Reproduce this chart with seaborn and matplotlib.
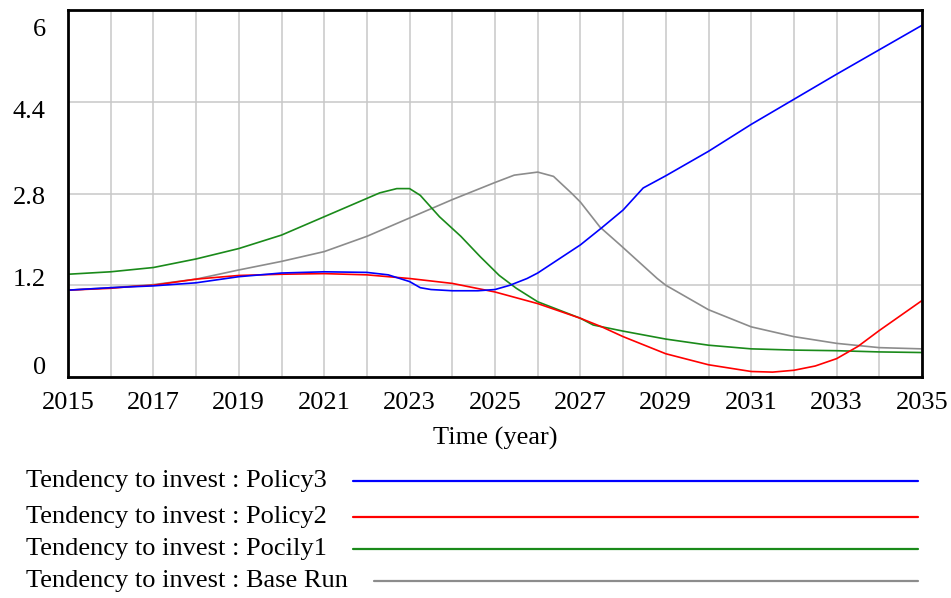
import numpy as np
import pandas as pd
import matplotlib
matplotlib.use("Agg")
import matplotlib.pyplot as plt
from matplotlib.lines import Line2D
from matplotlib.transforms import ScaledTranslation
import seaborn as sns

# values
policy3_years = [2015, 2016, 2017, 2018, 2019, 2020, 2021, 2022, 2022.5, 2023, 2023.25,
                 2023.5, 2024, 2024.6, 2025, 2025.35, 2025.75, 2026, 2027, 2027.5, 2028,
                 2028.47, 2029, 2030, 2031, 2032, 2033, 2034, 2035]
policy3_vals = [1.42, 1.46, 1.49, 1.54, 1.64, 1.70, 1.72, 1.71, 1.67, 1.56, 1.46,
                1.43, 1.41, 1.41, 1.43, 1.50, 1.61, 1.70, 2.16, 2.44, 2.73,
                3.09, 3.29, 3.69, 4.13, 4.54, 4.95, 5.35, 5.75]

policy2_years = [2015, 2016, 2016.5, 2017, 2018, 2019, 2020, 2021, 2022, 2023, 2024,
                 2025, 2026, 2027, 2027.5, 2028, 2029, 2030, 2031, 2031.5, 2032,
                 2032.5, 2033, 2033.5, 2034, 2035]
policy2_vals = [1.42, 1.45, 1.48, 1.50, 1.60, 1.66, 1.68, 1.69, 1.67, 1.61, 1.53,
                1.39, 1.20, 0.96, 0.82, 0.66, 0.38, 0.20, 0.09, 0.08, 0.11,
                0.18, 0.30, 0.50, 0.76, 1.25]

pocily1_years = [2015, 2016, 2017, 2018, 2019, 2020, 2021, 2021.5, 2022, 2022.3, 2022.7,
                 2023, 2023.25, 2023.7, 2024.2, 2024.65, 2025.1, 2025.5, 2026, 2027,
                 2027.3, 2028, 2029, 2030, 2031, 2032, 2033, 2034, 2035]
pocily1_vals = [1.68, 1.72, 1.79, 1.93, 2.10, 2.32, 2.62, 2.77, 2.92, 3.01, 3.08,
                3.08, 2.97, 2.62, 2.30, 1.97, 1.66, 1.45, 1.23, 0.96,
                0.85, 0.75, 0.62, 0.52, 0.46, 0.44, 0.43, 0.41, 0.40]

base_years = [2015, 2016, 2017, 2018, 2019, 2020, 2021, 2022, 2023, 2024, 2025,
              2025.45, 2026, 2026.37, 2026.8, 2027, 2027.46, 2027.93, 2028.8, 2029,
              2030, 2031, 2032, 2033, 2034, 2035]
base_vals = [1.42, 1.46, 1.51, 1.60, 1.75, 1.89, 2.05, 2.30, 2.60, 2.90, 3.18,
             3.30, 3.35, 3.28, 3.00, 2.86, 2.45, 2.16, 1.61, 1.50,
             1.10, 0.82, 0.66, 0.55, 0.48, 0.46]

run_names = ["Base Run", "Pocily1", "Policy2", "Policy3"]
run_colors = {"Policy3": "#0000ff", "Policy2": "#ff0000",
              "Pocily1": "#1a8a1a", "Base Run": "#8c8c8c"}
legend_order = ["Policy3", "Policy2", "Pocily1", "Base Run"]

y_ticks = [0, 1.5, 3, 4.5, 6]
y_labels = ["0", "1.2", "2.8", "4.4", "6"]

frames = []
for name, xs, ys in [("Base Run", base_years, base_vals),
                     ("Pocily1", pocily1_years, pocily1_vals),
                     ("Policy2", policy2_years, policy2_vals),
                     ("Policy3", policy3_years, policy3_vals)]:
    frames.append(pd.DataFrame({"year": xs, "value": ys, "run": name}))
df = pd.concat(frames, ignore_index=True)

sns.set_style("white")
plt.rcParams["font.family"] = ["Liberation Serif", "DejaVu Serif"]
for key in ["text.color", "axes.labelcolor", "xtick.color", "ytick.color"]:
    plt.rcParams[key] = "black"

W, H = 951, 598
fig = plt.figure(figsize=(W / 100, H / 100), dpi=100)
ax = fig.add_axes([68 / W, 1 - 377 / H, (922 - 68) / W, (377 - 10) / H])

sns.lineplot(data=df, x="year", y="value", hue="run", hue_order=run_names,
             palette=run_colors, estimator=None, sort=False, linewidth=1.2,
             legend=False, ax=ax)

ax.set_xlim(2015, 2035)
ax.set_ylim(0, 6)
ax.set_xticks(range(2015, 2036, 2))
ax.set_xticks(range(2015, 2036), minor=True)
ax.set_yticks(y_ticks)
ax.set_yticklabels(y_labels)
ax.grid(True, which="both", color="#c8c8c8", linewidth=1.1)
ax.set_axisbelow(True)
ax.tick_params(axis="both", which="both", length=0, labelsize=19)
ax.tick_params(axis="x", pad=11)
ax.tick_params(axis="y", pad=16)
for s in ax.spines.values():
    s.set_color("black")
    s.set_linewidth(2)

# nudge y labels the way the original tool placed them
shifts = [11, 7.5, -2, -8, -18]
for lab, dy in zip(ax.get_yticklabels(), shifts):
    lab.set_transform(lab.get_transform() + ScaledTranslation(0, dy / 100, fig.dpi_scale_trans))

ax.set_xlabel("Time (year)", fontsize=19, labelpad=9)
ax.set_ylabel("")

# legend block under the chart
fig.canvas.draw()
renderer = fig.canvas.get_renderer()
row_y = [481, 517, 549, 581]
for name, py in zip(legend_order, row_y):
    t = fig.text(26 / W, 1 - py / H, "Tendency to invest : " + name,
                 fontsize=19, va="center", ha="left")
    bb = t.get_window_extent(renderer)
    x0 = max(345, bb.x1 + 26)
    fig.add_artist(Line2D([x0 / W, 918 / W], [1 - py / H, 1 - py / H],
                          transform=fig.transFigure, color=run_colors[name],
                          linewidth=1.6))

fig.savefig("out.png", dpi=100)
